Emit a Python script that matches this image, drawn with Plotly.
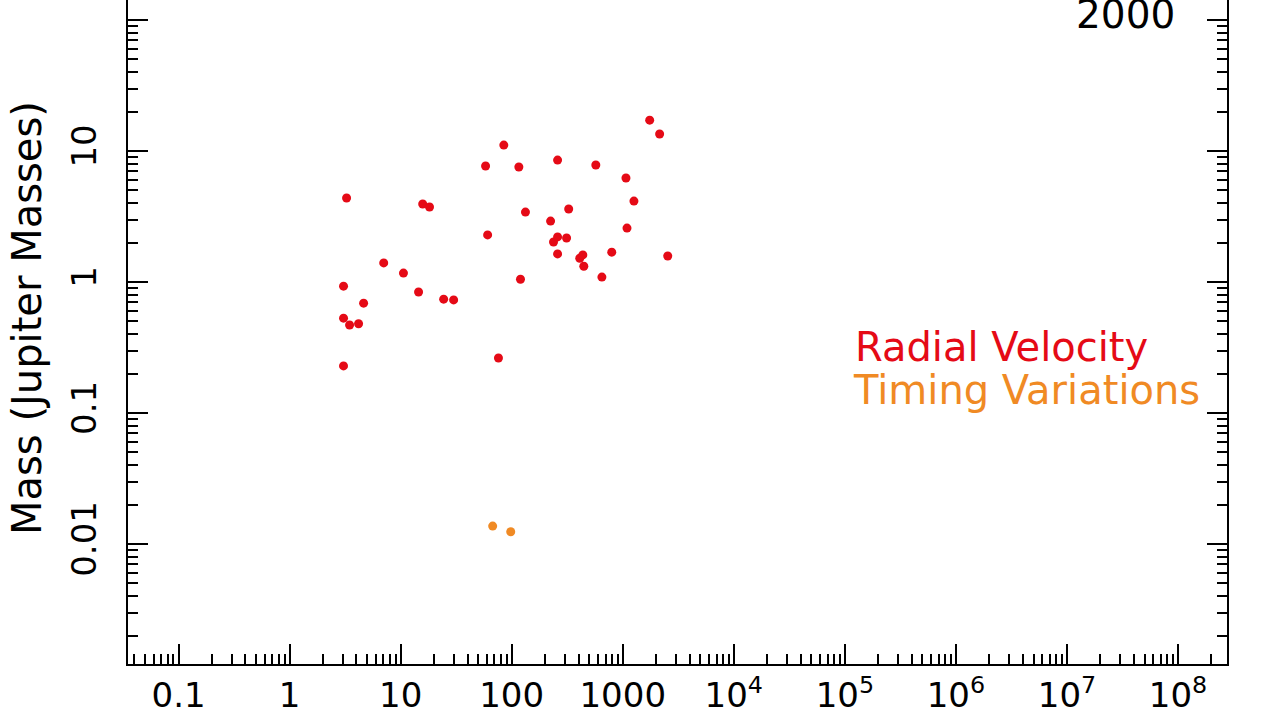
import plotly.graph_objects as go

# Radial Velocity planets (orbital period, mass in Jupiter masses)
rv_x = [3.06, 3.06, 3.06, 3.47, 3.26, 4.18, 4.64, 7.04, 10.6, 14.5, 15.8, 18.2, 24.4, 30.0,
        58.2, 60.7, 76.0, 84.9, 116, 120, 133, 224, 238, 259, 259, 259, 312, 326, 410, 437,
        446, 572, 649, 796, 1069, 1092, 1261, 1748, 2148, 2541]
rv_y = [0.229, 0.93, 0.53, 0.47, 4.38, 0.48, 0.69, 1.40, 1.17, 0.84, 3.94, 3.74, 0.74, 0.73,
        7.68, 2.29, 0.263, 11.1, 7.55, 1.05, 3.42, 2.92, 2.02, 8.53, 2.21, 1.64, 2.17, 3.61, 1.52, 1.61,
        1.32, 7.82, 1.09, 1.69, 6.22, 2.58, 4.15, 17.2, 13.5, 1.58]

# Timing variations
tv_x = [67.4, 98.0]
tv_y = [0.0137, 0.0124]

x_tickvals = [0.1, 1, 10, 100, 1000, 1e4, 1e5, 1e6, 1e7, 1e8]
x_ticktext = ["0.1", "1", "10", "100", "1000", "10<sup>4</sup>", "10<sup>5</sup>",
              "10<sup>6</sup>", "10<sup>7</sup>", "10<sup>8</sup>"]
y_tickvals = [0.01, 0.1, 1, 10, 100]
y_ticktext = ["0.01", "0.1", "1", "10", "100"]

year_label = "2000"
y_title = "Mass (Jupiter Masses)"
legend_labels = ["Radial Velocity", "Timing Variations"]

RED = "#e50a16"
ORANGE = "#f08a24"
FONT = "DejaVu Sans"

L, R, B = 128, 1227, 664
PW, PH = R - L, B

fig = go.Figure()
fig.add_trace(go.Scatter(x=rv_x, y=rv_y, mode="markers",
                         marker=dict(color=RED, size=9, line=dict(width=0)), showlegend=False))
fig.add_trace(go.Scatter(x=tv_x, y=tv_y, mode="markers",
                         marker=dict(color=ORANGE, size=9, line=dict(width=0)), showlegend=False))

axis_common = dict(
    showgrid=False, zeroline=False, showline=True, linecolor="black", linewidth=2,
    ticks="inside", ticklen=20, tickwidth=2, tickcolor="black", automargin=False,
    minor=dict(ticks="inside", ticklen=10, tickwidth=2, tickcolor="black", dtick="D1", showgrid=False),
    tickfont=dict(family=FONT, size=34, color="black"),
)

fig.update_xaxes(type="log", range=[-1.455, 8.441], tickvals=x_tickvals, ticktext=x_ticktext,
                 ticklabelstandoff=0, **axis_common)
fig.update_yaxes(type="log", range=[-2.916, 2.153], tickvals=y_tickvals, ticktext=y_ticktext,
                 tickangle=-90, mirror="ticks", ticklabelstandoff=16, **axis_common)

annotations = [
    dict(text=year_label, xref="paper", yref="paper", x=(1177 - L) / PW, y=(B - 15) / PH,
         xanchor="right", yanchor="middle", showarrow=False,
         font=dict(family=FONT, size=39, color="black")),
    dict(text=y_title, xref="paper", yref="paper", x=(27 - L) / PW, y=(B - 318) / PH,
         xanchor="center", yanchor="middle", textangle=-90, showarrow=False,
         font=dict(family=FONT, size=40, color="black")),
    dict(text=legend_labels[0], xref="paper", yref="paper", x=(853 - L) / PW, y=(B - 347) / PH,
         xanchor="left", yanchor="middle", showarrow=False,
         font=dict(family=FONT, size=40, color=RED)),
    dict(text=legend_labels[1], xref="paper", yref="paper", x=(851 - L) / PW, y=(B - 390) / PH,
         xanchor="left", yanchor="middle", showarrow=False,
         font=dict(family=FONT, size=40, color=ORANGE)),
]

fig.update_layout(
    width=1280, height=720,
    margin=dict(l=L, r=1280 - R, t=0, b=720 - B),
    paper_bgcolor="white", plot_bgcolor="white",
    annotations=annotations,
    showlegend=False,
)

fig.write_html("out.html", config={"displayModeBar": False, "staticPlot": True},
               post_script="document.body.style.margin='0px';")
